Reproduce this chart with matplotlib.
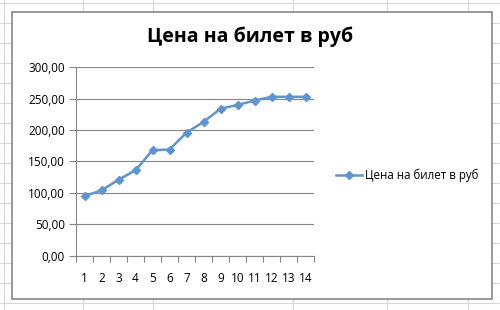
import matplotlib
matplotlib.use("Agg")
from matplotlib import pyplot as plt
from matplotlib.lines import Line2D
from matplotlib.patches import Rectangle
from matplotlib.ticker import FuncFormatter, FixedLocator

plt.rcParams['font.family'] = ['Open Sans', 'DejaVu Sans']

# data
days = list(range(1, 15))
price = [95, 104, 121, 136, 168, 169, 196, 213, 234, 240, 247, 253, 253, 253]
series_label = "Цена на билет в руб"
title = "Цена на билет в руб"

W, H = 500, 310
fig = plt.figure(figsize=(5, 3.1), dpi=100)
fig.patch.set_facecolor("white")

# spreadsheet grid behind the chart
grid_col = "#d4d7dc"
for y in range(3, 310, 20):
    fig.add_artist(Line2D([0, 1], [1 - y / H, 1 - y / H], color=grid_col, lw=0.8, zorder=0))
for x in [4, 83, 153, 293, 387, 468]:
    fig.add_artist(Line2D([x / W, x / W], [0, 1], color=grid_col, lw=0.8, zorder=0))

# chart area
fig.add_artist(Rectangle((12 / W, 1 - 299 / H), 480 / W, 287 / H, facecolor="white",
                         edgecolor="#868686", lw=1.2, zorder=1))

ax = fig.add_axes([76 / W, 1 - 255.7 / H, 238 / W, 188.4 / H], zorder=2)
ax.set_facecolor("none")

line_col = "#5e94d0"
ax.plot(days, price, color=line_col, lw=1.8, marker="D", markersize=4,
        markerfacecolor=line_col, markeredgecolor=line_col, label=series_label)

ax.set_xlim(0.5, 14.5)
ax.set_ylim(0, 300)
ax.set_yticks(range(0, 301, 50))
ax.yaxis.set_major_formatter(FuncFormatter(lambda v, p: f"{v:.2f}".replace(".", ",")))
ax.set_xticks(days)
ax.xaxis.set_minor_locator(FixedLocator([d + 0.5 for d in range(0, 15)]))
ax.tick_params(axis="x", which="major", length=0, pad=12, labelsize=8.5)
ax.tick_params(axis="x", which="minor", length=4, color="#868686", width=0.8)
ax.tick_params(axis="y", length=5, color="#868686", width=0.8, labelsize=8.5, pad=3)
ax.grid(axis="y", color="#868686", lw=0.8)
ax.set_axisbelow(True)
for s in ["top", "right"]:
    ax.spines[s].set_visible(False)
for s in ["left", "bottom"]:
    ax.spines[s].set_color("#868686")
    ax.spines[s].set_linewidth(0.8)

fig.text(0.5, 1 - 37 / H, title, ha="center", va="center", fontsize=14,
         fontweight="bold", zorder=3)

leg = fig.legend(loc="center left", bbox_to_anchor=(326 / W, 1 - 175 / H), frameon=False,
                 fontsize=8.3, handlelength=2.2, handletextpad=0.3)
leg.set_zorder(3)

fig.savefig("out.png", dpi=100)
